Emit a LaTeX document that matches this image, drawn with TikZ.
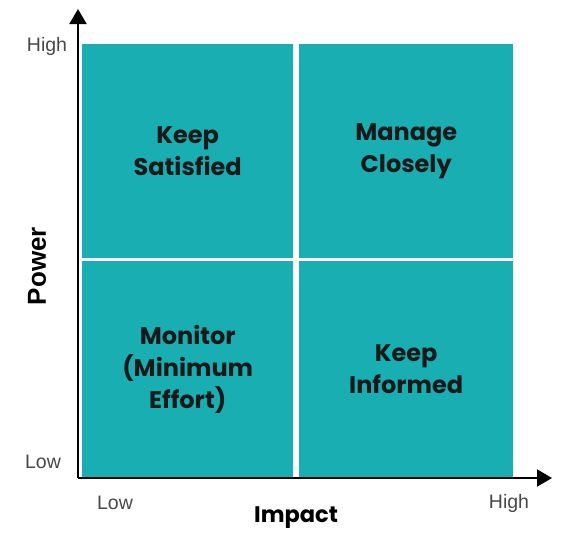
\documentclass[tikz,border=0pt]{standalone}
\usepackage{fontspec}
\setmainfont{Liberation Sans}
\newfontfamily\quadfont{Poppins}
\usetikzlibrary{arrows.meta}
\definecolor{quadteal}{RGB}{24,174,178}
\definecolor{ticktext}{RGB}{72,72,72}
\tikzset{
 quadrant/.style={rectangle,fill=quadteal,inner sep=0,anchor=north west,align=center,
  font=\quadfont\bfseries\fontsize{24}{32}\selectfont,text=black!90},
 axisline/.style={line width=2pt,-{Triangle[length=15pt,width=17pt]}},
 ticklabel/.style={font=\fontsize{19.5}{22}\selectfont,text=ticktext},
 axistitle/.style={font=\quadfont\bfseries\fontsize{22.5}{26}\selectfont}
}

\begin{document}
\begin{tikzpicture}[x=1pt,y=-1pt]
\path[use as bounding box] (0,0) rectangle (567,541);
% quadrants
\node[quadrant,minimum width=211pt,minimum height=214pt] (tl) at (82,44) {Keep\\Satisfied};
\node[quadrant,minimum width=214pt,minimum height=214pt] (tr) at (299,44) {Manage\\Closely};
\node[quadrant,minimum width=211pt,minimum height=216pt] (bl) at (82,261) {Monitor\\(Minimum\\Effort)};
\node[quadrant,minimum width=214pt,minimum height=216pt] (br) at (299,261) {Keep\\Informed};
% axes
\coordinate (origin) at (78,478);
\coordinate (ytip) at (78,9);
\coordinate (xtip) at (552,478);
\draw[axisline] (origin) -- (ytip);
\draw[axisline] (origin) -- (xtip);
% labels
\node[ticklabel] (yhigh) at (47,46) {High};
\node[ticklabel] (ylow) at (43,462) {Low};
\node[ticklabel] (xlow) at (115,503) {Low};
\node[ticklabel] (xhigh) at (509,503) {High};
\node[axistitle] (impact) at (296,518) {Impact};
\node[font=\bfseries\fontsize{26}{28}\selectfont,rotate=90] (power) at (37,266) {Power};
\end{tikzpicture}
\end{document}
